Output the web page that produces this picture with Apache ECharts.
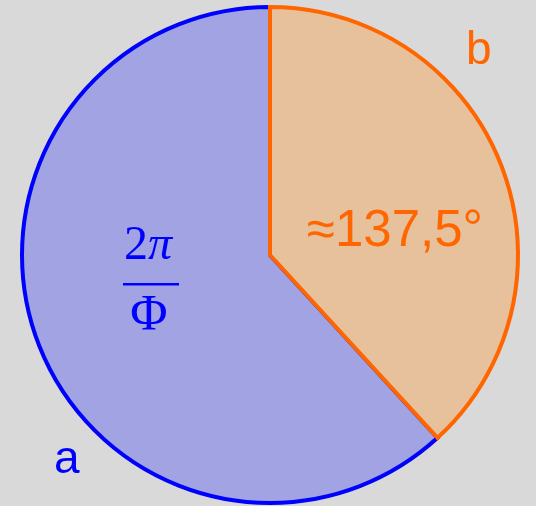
<!DOCTYPE html>
<html>
<head>
<meta charset="utf-8">
<script src="https://cdn.jsdelivr.net/npm/echarts@6/dist/echarts.min.js"></script>
<style>html,body{margin:0;padding:0;background:#d9d9d9;}#c{width:536px;height:506px;}</style>
</head>
<body>
<div id="c"></div>
<script>
const categories = ['a', 'b'];
const values = [222.5, 137.5]; // degrees: 2π/Φ and ≈137,5°
const fills = ['#a1a3e3', '#e6c19c'];
const strokes = ['#0000ff', '#ff6600'];
const angleLabel = '≈137,5°';

const chart = echarts.init(document.getElementById('c'), null, {renderer: 'canvas'});
const serif = '"Liberation Serif", "DejaVu Serif", serif';
chart.setOption({
  backgroundColor: '#d9d9d9',
  animation: false,
  series: [{
    type: 'pie',
    center: [270, 255],
    radius: [0, 248],
    startAngle: 90,
    clockwise: false,
    silent: true,
    label: {show: false},
    labelLine: {show: false},
    data: categories.map((c, i) => ({
      name: c,
      value: values[i],
      itemStyle: {color: fills[i], borderColor: strokes[i], borderWidth: 4, borderJoin: 'miter'}
    }))
  }],
  graphic: [
    {type: 'text', z: 100, left: 124, top: 222, style: {
      text: '{n|2}{p|π}', fill: '#0000ff',
      rich: {n: {font: '48px ' + serif, fill: '#0000ff'}, p: {font: 'italic 48px ' + serif, fill: '#0000ff'}}
    }},
    {type: 'rect', z: 100, shape: {x: 123, y: 283, width: 56, height: 2.5}, style: {fill: '#0000ff'}},
    {type: 'text', z: 100, style: {x: 149, y: 290, align: 'center', verticalAlign: 'top', text: 'Φ', font: '51px ' + serif, fill: '#0000ff'}},
    {type: 'text', z: 100, left: 307, top: 206, style: {text: angleLabel, font: '51px "Liberation Sans", Arial, sans-serif', fill: '#ff6600'}},
    {type: 'text', z: 100, left: 466, top: 28, style: {text: categories[1], font: '46px "Liberation Sans", Arial, sans-serif', fill: '#ff6600'}},
    {type: 'text', z: 100, left: 54, top: 437, style: {text: categories[0], font: '46px "Liberation Sans", Arial, sans-serif', fill: '#0000ff'}}
  ]
});
</script>
</body>
</html>
